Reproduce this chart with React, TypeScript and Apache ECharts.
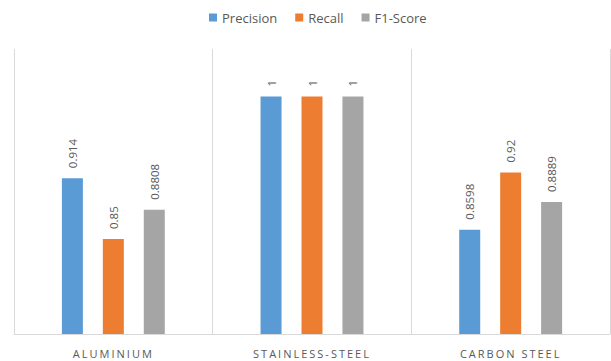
import React, { useEffect, useRef } from "react";
import * as echarts from "echarts";

const categories = ["ALUMINIUM", "STAINLESS-STEEL", "CARBON STEEL"];
const precision = [0.914, 1, 0.8598];
const recall = [0.85, 1, 0.92];
const f1Score = [0.8808, 1, 0.8889];

const FONT = "'Open Sans', 'Noto Sans', sans-serif";
const TEXT = "#595959";
const GRID = "#d9d9d9";

// Category labels are centred (text-anchor middle); give them a tracked look.
const CSS = `.metal-chart svg text[text-anchor="middle"] { letter-spacing: 2px; }`;

function makeSeries(name: string, data: number[], color: string) {
  return {
    name,
    type: "bar",
    data,
    barWidth: 21,
    barGap: "95%",
    itemStyle: { color },
    label: {
      show: true,
      position: "top",
      rotate: 90,
      align: "left",
      verticalAlign: "middle",
      distance: 10,
      color: TEXT,
      fontSize: 11.5,
      fontFamily: FONT,
      formatter: (p: any) => String(p.value),
    },
  };
}

export default function App() {
  const ref = useRef<HTMLDivElement>(null);
  useEffect(() => {
    if (!ref.current) return;
    const chart = echarts.init(ref.current, undefined, { renderer: "svg" });
    chart.setOption({
      animation: false,
      backgroundColor: "#ffffff",
      textStyle: { fontFamily: FONT },
      legend: {
        top: 6,
        left: 204,
        icon: "rect",
        itemWidth: 8,
        itemHeight: 8,
        itemGap: 18,
        textStyle: { color: TEXT, fontSize: 13, fontFamily: FONT },
        data: ["Precision", "Recall", "F1-Score"],
      },
      grid: { left: 14, right: 1, top: 49, bottom: 27 },
      xAxis: {
        type: "category",
        data: categories,
        axisLine: { show: true, lineStyle: { color: GRID, width: 1 } },
        axisTick: { show: false },
        splitLine: { show: true, lineStyle: { color: GRID, width: 1 } },
        axisLabel: {
          color: TEXT,
          fontSize: 11,
          fontFamily: FONT,
          margin: 14,
        },
      },
      yAxis: {
        type: "value",
        min: 0.75,
        max: 1.05,
        interval: 0.05,
        show: false,
        splitLine: { show: false },
      },
      series: [
        makeSeries("Precision", precision, "#5b9bd5"),
        makeSeries("Recall", recall, "#ed7d31"),
        makeSeries("F1-Score", f1Score, "#a5a5a5"),
      ],
    });
    return () => chart.dispose();
  }, []);
  return (
    <>
      <style>{CSS}</style>
      <div
        ref={ref}
        className="metal-chart"
        style={{ position: "fixed", left: 0, top: 0, width: 611, height: 361 }}
      />
    </>
  );
}
